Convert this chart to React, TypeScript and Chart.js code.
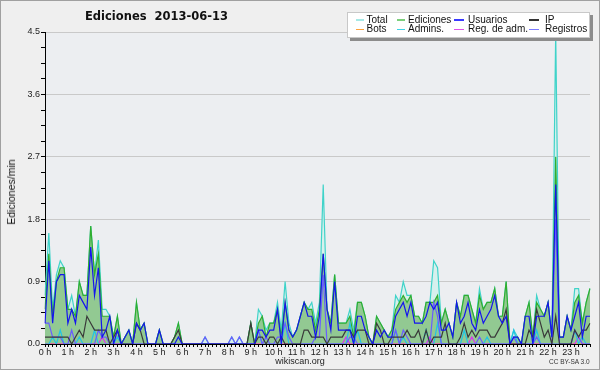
import React, { useEffect, useRef } from "react";
import { Chart, registerables } from "chart.js";

Chart.register(...registerables);

// ---------- data ----------
const hourLabels = [
  "0 h", "1 h", "2 h", "3 h", "4 h", "5 h", "6 h", "7 h", "8 h", "9 h", "10 h", "11 h",
  "12 h", "13 h", "14 h", "15 h", "16 h", "17 h", "18 h", "19 h", "20 h", "21 h", "22 h", "23 h",
];
const minuteLabels = ["00", "10", "20", "30", "40", "50"];

const yTickValues = [0, 0.9, 1.8, 2.7, 3.6, 4.5];
const yTickLabels = ["0.0", "0.9", "1.8", "2.7", "3.6", "4.5"];

const legendNames = ["Total", "Ediciones", "Usuarios", "IP", "Bots", "Admins.", "Reg. de adm.", "Registros"];

// edits per minute, one value per 10-minute slot
const total = [
  0.7, 1.6, 0.5, 1.0, 1.2, 1.1, 0.5, 0.7, 0.4, 0.9, 0.7, 0.7,
  1.7, 1.0, 1.5, 0.5, 0.5, 0.4, 0.1, 0.4, 0, 0.1, 0.2, 0,
  0.6, 0.2, 0.3, 0, 0, 0, 0.2, 0, 0, 0, 0.1, 0.3,
  0, 0, 0, 0, 0, 0, 0.1, 0, 0, 0, 0, 0,
  0, 0.1, 0, 0.1, 0, 0, 0.3, 0, 0.5, 0.4, 0.2, 0.3,
  0.3, 0.6, 0.2, 0.9, 0.3, 0.1, 0.2, 0.4, 0.6, 0.5, 0.6, 0.3,
  0.6, 2.3, 0.5, 0.3, 1.0, 0.3, 0.3, 0.3, 0.5, 0.2, 0.6, 0.6,
  0.4, 0.1, 0, 0.4, 0.3, 0.2, 0.1, 0.2, 0.7, 0.6, 0.9, 0.7,
  0.7, 0.4, 0.4, 0.3, 0.6, 0.6, 1.2, 1.1, 0.3, 0.5, 0.3, 0.1,
  0.6, 0.4, 0.7, 0.7, 0.5, 0.3, 0.8, 0.5, 0.6, 0.6, 0.8, 0.4,
  0.4, 0.9, 0, 0.2, 0.1, 0, 0.4, 0.6, 0.1, 0.7, 0.5, 0.4,
  0.6, 0.1, 4.5, 0.1, 0.1, 0.4, 0.2, 0.8, 0.8, 0.3, 0.6, 0.8,
];
const ediciones = [
  0.5, 1.3, 0.4, 0.9, 1.1, 1.1, 0.5, 0.5, 0.4, 0.9, 0.7, 0.7,
  1.7, 1.0, 1.3, 0.4, 0.4, 0.4, 0.1, 0.4, 0, 0.1, 0.2, 0,
  0.6, 0.2, 0.3, 0, 0, 0, 0.2, 0, 0, 0, 0.1, 0.3,
  0, 0, 0, 0, 0, 0, 0, 0, 0, 0, 0, 0,
  0, 0, 0, 0, 0, 0, 0.3, 0, 0.3, 0.4, 0.1, 0.3,
  0.3, 0.5, 0.1, 0.6, 0.2, 0.1, 0.2, 0.4, 0.6, 0.5, 0.5, 0.2,
  0.5, 1.3, 0.5, 0.3, 1.0, 0.3, 0.3, 0.3, 0.4, 0.1, 0.6, 0.6,
  0.4, 0.1, 0, 0.4, 0.3, 0.2, 0.1, 0.2, 0.5, 0.6, 0.7, 0.6,
  0.7, 0.4, 0.4, 0.3, 0.6, 0.6, 0.6, 0.7, 0.3, 0.5, 0.3, 0.1,
  0.6, 0.4, 0.7, 0.7, 0.5, 0.3, 0.7, 0.5, 0.6, 0.6, 0.8, 0.4,
  0.4, 0.9, 0, 0.1, 0.1, 0, 0.4, 0.6, 0.1, 0.6, 0.5, 0.4,
  0.6, 0.1, 2.7, 0.1, 0.1, 0.4, 0.2, 0.6, 0.7, 0.3, 0.6, 0.8,
];
const usuarios = [
  0.3, 1.2, 0.3, 0.9, 1.0, 1.0, 0.3, 0.5, 0.3, 0.7, 0.6, 0.5,
  1.4, 0.7, 1.1, 0.1, 0.2, 0.4, 0, 0.2, 0, 0.1, 0.2, 0,
  0.3, 0.2, 0.3, 0, 0, 0, 0.2, 0, 0, 0, 0, 0.1,
  0, 0, 0, 0, 0, 0, 0, 0, 0, 0, 0, 0,
  0, 0, 0, 0, 0, 0, 0, 0, 0.2, 0.2, 0.1, 0.2,
  0.2, 0.5, 0, 0.6, 0.2, 0.1, 0.2, 0.4, 0.6, 0.4, 0.4, 0.1,
  0.4, 1.3, 0.5, 0.2, 0.9, 0.2, 0.2, 0.2, 0.2, 0, 0.4, 0.4,
  0.2, 0.1, 0, 0.2, 0.1, 0.2, 0.1, 0.1, 0.4, 0.5, 0.6, 0.4,
  0.6, 0.3, 0.3, 0.3, 0.4, 0.6, 0.5, 0.6, 0.2, 0.2, 0.3, 0.1,
  0.6, 0.3, 0.4, 0.6, 0.3, 0.2, 0.5, 0.3, 0.4, 0.5, 0.7, 0.4,
  0.3, 0.4, 0, 0.1, 0.1, 0, 0.4, 0.4, 0, 0.4, 0.4, 0.4,
  0.6, 0.1, 2.3, 0.1, 0.1, 0.4, 0.2, 0.4, 0.6, 0.1, 0.4, 0.4,
];
const ip = [
  0.1, 0.1, 0.1, 0.1, 0.1, 0.1, 0.1, 0, 0.1, 0.2, 0.1, 0.4,
  0.3, 0.2, 0.2, 0.2, 0.2, 0, 0.1, 0.2, 0, 0, 0, 0,
  0.3, 0.2, 0, 0, 0, 0, 0, 0, 0, 0, 0.1, 0.2,
  0, 0, 0, 0, 0, 0, 0, 0, 0, 0, 0, 0,
  0, 0, 0, 0, 0, 0, 0.3, 0, 0.1, 0.1, 0, 0.1,
  0.1, 0, 0.1, 0, 0, 0, 0, 0, 0.2, 0.2, 0.1, 0.1,
  0.1, 0.1, 0, 0.1, 0.1, 0.1, 0.1, 0.2, 0.2, 0.1, 0.2, 0.2,
  0.2, 0, 0, 0.3, 0.2, 0, 0, 0.1, 0.1, 0.1, 0.1, 0.2,
  0.1, 0.1, 0.2, 0, 0.2, 0, 0.1, 0.1, 0.1, 0.3, 0, 0,
  0, 0.1, 0.3, 0.1, 0.2, 0.1, 0.2, 0.2, 0.2, 0.1, 0.1, 0.2,
  0.3, 0.5, 0, 0, 0, 0, 0, 0.2, 0.1, 0.5, 0.3, 0.1,
  0.2, 0, 0.4, 0, 0, 0, 0, 0.2, 0.1, 0.2, 0.2, 0.3,
];
const bots = [
  0, 0, 0, 0, 0, 0, 0, 0, 0, 0, 0, 0,
  0, 0, 0, 0, 0, 0, 0, 0, 0, 0, 0, 0,
  0, 0, 0, 0, 0, 0, 0, 0, 0, 0, 0, 0,
  0, 0, 0, 0, 0, 0, 0, 0, 0, 0, 0, 0,
  0, 0, 0, 0, 0, 0, 0, 0, 0, 0, 0, 0,
  0, 0, 0, 0, 0, 0, 0, 0, 0, 0, 0, 0,
  0, 0, 0, 0, 0, 0, 0, 0, 0, 0, 0, 0,
  0, 0, 0, 0, 0, 0, 0, 0, 0, 0, 0, 0,
  0, 0, 0, 0, 0, 0, 0, 0, 0, 0, 0, 0,
  0, 0, 0, 0, 0, 0, 0, 0, 0, 0, 0, 0,
  0, 0, 0, 0, 0, 0, 0, 0, 0, 0, 0, 0,
  0, 0, 0, 0, 0, 0, 0, 0, 0, 0, 0, 0,
];
const admins = [
  0, 0, 0.1, 0, 0.2, 0, 0, 0, 0, 0.1, 0, 0,
  0, 0.2, 0, 0, 0, 0, 0, 0.1, 0, 0, 0, 0,
  0, 0, 0, 0, 0, 0, 0, 0, 0, 0, 0, 0,
  0, 0, 0, 0, 0, 0, 0, 0, 0, 0, 0, 0,
  0, 0, 0, 0, 0, 0, 0, 0, 0.2, 0, 0, 0,
  0, 0, 0, 0.3, 0, 0, 0, 0, 0, 0, 0, 0,
  0, 0, 0, 0, 0, 0, 0, 0, 0.3, 0, 0.2, 0,
  0, 0, 0, 0, 0, 0, 0, 0, 0.2, 0, 0.1, 0,
  0, 0, 0, 0, 0.2, 0, 0, 0.3, 0, 0, 0, 0,
  0, 0, 0.2, 0, 0, 0, 0, 0, 0.1, 0, 0, 0,
  0, 0, 0, 0.2, 0, 0, 0, 0, 0, 0.2, 0, 0,
  0, 0, 0, 0, 0, 0, 0, 0.2, 0, 0.1, 0, 0,
];
const regAdm = [
  0, 0, 0, 0, 0, 0, 0, 0, 0, 0, 0, 0,
  0, 0, 0, 0.1, 0, 0, 0, 0, 0, 0, 0, 0,
  0, 0, 0, 0, 0, 0, 0, 0, 0, 0, 0, 0,
  0, 0, 0, 0, 0, 0, 0, 0, 0, 0, 0, 0,
  0, 0, 0, 0, 0, 0, 0, 0, 0, 0, 0, 0,
  0, 0, 0, 0, 0, 0, 0, 0, 0, 0, 0, 0,
  0, 0, 0, 0, 0, 0, 0, 0.1, 0, 0, 0, 0,
  0, 0, 0, 0, 0, 0, 0, 0, 0, 0, 0, 0,
  0, 0, 0, 0, 0, 0.1, 0, 0, 0, 0, 0, 0,
  0, 0, 0, 0, 0.1, 0, 0, 0, 0, 0, 0, 0,
  0, 0, 0, 0, 0, 0, 0, 0, 0, 0, 0, 0,
  0, 0, 0, 0, 0, 0, 0, 0, 0.1, 0, 0, 0,
];
const registros = [
  0.3, 0.3, 0.1, 0.1, 0.1, 0, 0, 0.2, 0, 0, 0, 0,
  0, 0, 0.2, 0.1, 0.1, 0, 0, 0, 0, 0, 0, 0,
  0, 0, 0, 0, 0, 0, 0, 0, 0, 0, 0, 0,
  0, 0, 0, 0, 0, 0, 0.1, 0, 0, 0, 0, 0,
  0, 0.1, 0, 0.1, 0, 0, 0, 0, 0.2, 0, 0.1, 0,
  0, 0.1, 0.1, 0.3, 0.1, 0, 0, 0, 0, 0, 0, 0.1,
  0.1, 1.0, 0, 0, 0, 0, 0, 0, 0.1, 0.1, 0, 0,
  0, 0, 0, 0, 0, 0, 0, 0, 0.2, 0, 0.2, 0.1,
  0, 0, 0, 0, 0, 0, 0.6, 0.4, 0, 0, 0, 0,
  0, 0, 0, 0, 0, 0, 0.1, 0, 0, 0, 0, 0,
  0, 0, 0, 0.1, 0, 0, 0, 0, 0, 0.1, 0, 0,
  0, 0, 1.8, 0, 0, 0, 0, 0.2, 0.1, 0, 0, 0,
];

// ---------- styles ----------
const lineColors = {
  total: "#3fd3c9",
  ediciones: "#2fae2f",
  usuarios: "#1414ee",
  ip: "#3a3a3a",
  bots: "#ffa030",
  admins: "#22c4e4",
  regAdm: "#dd33ee",
  registros: "#6a5cff",
};
const legendSwatch = ["#a6e9e6", "#7ccf7c", "#3a3aff", "#333333", "#ffa23a", "#3fd2e6", "#e050e8", "#7a7aff"];

const slotLabels: string[] = [];
hourLabels.forEach((h) => minuteLabels.forEach((m) => slotLabels.push(h + ":" + m)));

const yAllTicks: number[] = [];
for (let j = 0; j < yTickValues.length - 1; j++) {
  const a = yTickValues[j];
  const b = yTickValues[j + 1];
  for (let k = 0; k < 4; k++) yAllTicks.push(a + ((b - a) * k) / 4);
}
yAllTicks.push(yTickValues[yTickValues.length - 1]);

const majorIndex = (v: number) => yTickValues.findIndex((t) => Math.abs(t - v) < 1e-6);

const plotBg = {
  id: "plotBg",
  beforeDraw(chart: any) {
    const { ctx, chartArea: a } = chart;
    ctx.save();
    ctx.fillStyle = "#eceef1";
    ctx.fillRect(a.left, a.top, a.right - a.left, a.bottom - a.top);
    ctx.restore();
  },
};

const legendPos = [
  { x: 356, w: 8, tx: 366.5 },
  { x: 397, w: 8, tx: 408 },
  { x: 454, w: 10, tx: 468 },
  { x: 529, w: 10, tx: 545 },
];

export default function App() {
  const canvasRef = useRef<HTMLCanvasElement>(null);

  useEffect(() => {
    const canvas = canvasRef.current;
    if (!canvas) return;
    const mk = (label: string, data: number[], color: string, order: number, fill: any = false, bg = "transparent") => ({
      label,
      data,
      borderColor: color,
      backgroundColor: bg,
      borderWidth: 1.2,
      pointRadius: 0,
      tension: 0,
      fill,
      order,
    });
    const datasets = [
      mk(legendNames[0], total, lineColors.total, 8, "origin", "#d7f0ed"),
      mk(legendNames[1], ediciones, lineColors.ediciones, 7, "origin", "#92c992"),
      mk(legendNames[4], bots, lineColors.bots, 6),
      mk(legendNames[6], regAdm, lineColors.regAdm, 5),
      mk(legendNames[5], admins, lineColors.admins, 4),
      mk(legendNames[7], registros, lineColors.registros, 3),
      mk(legendNames[3], ip, lineColors.ip, 2),
      mk(legendNames[2], usuarios, lineColors.usuarios, 1),
    ];
    const chart = new Chart(canvas, {
      type: "line",
      data: { labels: slotLabels, datasets: datasets as any },
      options: {
        responsive: false,
        animation: false,
        devicePixelRatio: 1,
        layout: { padding: { left: 0, top: 32, right: 10, bottom: 0 } },
        plugins: { legend: { display: false }, tooltip: { enabled: false }, title: { display: false } },
        scales: {
          x: {
            type: "category",
            offset: false,
            z: 1,
            grid: { drawOnChartArea: false, drawTicks: true, tickLength: 3, color: "#000", lineWidth: 1 },
            border: { display: true, color: "#000", width: 1 },
            ticks: {
              autoSkip: false,
              maxRotation: 0,
              minRotation: 0,
              padding: 0,
              color: "#222",
              font: { family: "'Liberation Sans', Arial, sans-serif", size: 9 },
              callback: (_v: any, i: number) => (i % minuteLabels.length === 0 ? hourLabels[i / minuteLabels.length] : ""),
            },
            afterFit: (s: any) => {
              s.height = 26;
            },
          },
          y: {
            type: "linear",
            min: yTickValues[0],
            max: yTickValues[yTickValues.length - 1],
            afterBuildTicks: (s: any) => {
              s.ticks = yAllTicks.map((v) => ({ value: v }));
            },
            grid: {
              color: (c: any) => (c.tick && majorIndex(c.tick.value) > 0 ? "#c9c9c9" : "rgba(0,0,0,0)"),
              tickColor: "#000",
              tickLength: 4,
              drawTicks: true,
              lineWidth: 1,
            },
            border: { display: true, color: "#000", width: 1 },
            ticks: {
              padding: 1,
              color: "#222",
              font: { family: "'Liberation Sans', Arial, sans-serif", size: 9 },
              callback: (v: any) => {
                const j = majorIndex(Number(v));
                return j >= 0 ? yTickLabels[j] : "";
              },
            },
            afterFit: (s: any) => {
              s.width = 45;
            },
          },
        },
      },
      plugins: [plotBg],
    });
    return () => chart.destroy();
  }, []);

  const font = "'Liberation Sans', Arial, sans-serif";
  return (
    <div
      style={{
        position: "absolute",
        left: 0,
        top: 0,
        width: 600,
        height: 370,
        background: "#efefef",
        overflow: "hidden",
        fontFamily: font,
        color: "#111",
      }}
    >
      <canvas ref={canvasRef} width={600} height={370} style={{ position: "absolute", left: 0, top: 0, width: 600, height: 370 }} />
      <div
        style={{
          position: "absolute",
          left: 85,
          top: 9,
          fontFamily: "'DejaVu Sans', sans-serif",
          fontWeight: "bold",
          fontSize: 11.5,
          lineHeight: "14px",
          whiteSpace: "pre",
          color: "#111",
        }}
      >
        {"Ediciones  2013-06-13"}
      </div>
      <div
        style={{
          position: "absolute",
          left: 11,
          top: 192,
          transform: "translate(-50%, -50%) rotate(-90deg)",
          fontSize: 10.5,
          lineHeight: "12px",
          whiteSpace: "pre",
          color: "#111",
        }}
      >
        Ediciones/min
      </div>
      <div
        style={{
          position: "absolute",
          left: 347,
          top: 12,
          width: 243,
          height: 26,
          background: "#fff",
          border: "1px solid #c8c8c8",
          boxSizing: "border-box",
          boxShadow: "3px 3px 0 #8c8c8c",
        }}
      />
      {legendNames.map((name, idx) => {
        const col = idx % 4;
        const row = Math.floor(idx / 4);
        const p = legendPos[col];
        const lineY = row === 0 ? 19 : 28.5;
        const textTop = row === 0 ? 14.8 : 24.2;
        return (
          <React.Fragment key={name}>
            <div style={{ position: "absolute", left: p.x, top: lineY, width: p.w, height: 1.5, background: legendSwatch[idx] }} />
            <div
              style={{
                position: "absolute",
                left: p.tx,
                top: textTop,
                fontSize: 10,
                lineHeight: "10px",
                whiteSpace: "pre",
                color: "#111",
              }}
            >
              {name}
            </div>
          </React.Fragment>
        );
      })}
      <div
        style={{ position: "absolute", left: 300, top: 356, transform: "translateX(-50%)", fontSize: 9, lineHeight: "10px", whiteSpace: "pre", color: "#222" }}
      >
        wikiscan.org
      </div>
      <div style={{ position: "absolute", left: 549, top: 358, fontSize: 6.5, lineHeight: "8px", whiteSpace: "pre", color: "#333" }}>
        CC BY-SA 3.0
      </div>
      <div
        style={{
          position: "absolute",
          left: 0,
          top: 0,
          width: 600,
          height: 370,
          border: "1px solid #a0a0a0",
          boxSizing: "border-box",
          pointerEvents: "none",
        }}
      />
    </div>
  );
}
